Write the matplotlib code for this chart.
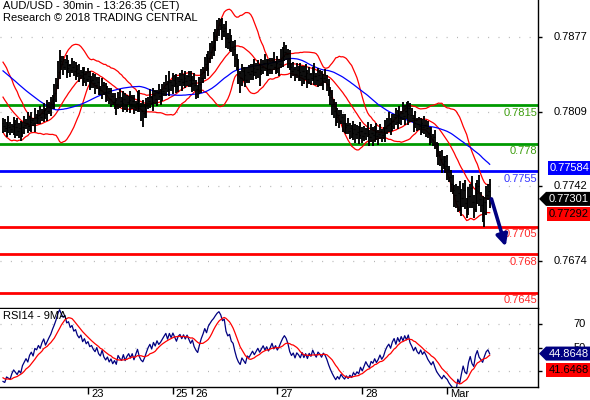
import numpy as np
import pandas as pd
import matplotlib
matplotlib.use("Agg")
import matplotlib.pyplot as plt
from matplotlib import transforms
from matplotlib.patches import Polygon

plt.rcParams["font.family"] = ["Liberation Sans", "DejaVu Sans"]
plt.rcParams["font.size"] = 8

# ---------------- data ----------------
BASE = 0.7700
PIP = 0.0001
WICK_UNIT = 1.6 * PIP   # one digit of the wick strings

# closes before the visible window (needed for indicator warm-up)
history_pips = [158, 161, 163, 160, 164, 166, 162, 165, 168, 164, 161, 163, 167, 165,
                162, 160, 164, 166, 163, 161, 165, 162, 159, 163, 166, 161, 158, 160,
                155, 151, 153, 147, 143, 146, 140, 136, 138, 131, 127, 129, 123, 119,
                121, 115, 111, 113, 106, 102, 104, 99]

# visible 30-min closes, pips above 0.7700
close_pips = [
    96, 94, 97, 95, 93, 96, 98, 95, 92, 94,
    91, 95, 97, 99, 96, 100, 102, 99, 104, 103,
    106, 104, 108, 111, 107, 110, 113, 116, 121, 126,
    133, 145, 155, 152, 150, 154, 149, 151, 147, 150,
    146, 148, 144, 142, 145, 140, 143, 139, 141, 137,
    138, 135, 133, 136, 131, 129, 133, 127, 124, 126,
    121, 123, 118, 120, 116, 122, 119, 117, 121, 115,
    118, 120, 116, 119, 113, 117, 121, 114, 110, 108,
    111, 115, 119, 122, 118, 124, 121, 126, 123, 125,
    128, 131, 134, 130, 136, 133, 138, 135, 132, 137,
    139, 136, 140, 137, 141, 138, 135, 138, 133, 130,
    128, 134, 140, 145, 152, 149, 158, 163, 168, 172,
    178, 184, 188, 186, 182, 185, 176, 172, 174, 168,
    166, 158, 150, 144, 140, 146, 142, 138, 145, 143,
    146, 149, 145, 148, 151, 147, 150, 153, 149, 152,
    148, 151, 155, 150, 153, 149, 152, 156, 160, 163,
    161, 157, 150, 146, 148, 143, 147, 145, 142, 146,
    141, 144, 139, 143, 140, 145, 141, 138, 142, 140,
    137, 140, 138, 134, 128, 122, 116, 110, 104, 106,
    101, 104, 99, 95, 97, 92, 94, 90, 93, 89,
    91, 88, 92, 87, 90, 93, 89, 86, 90, 88,
    91, 87, 89, 92, 88, 90, 94, 97, 99, 96,
    101, 104, 100, 106, 103, 108, 105, 110, 107, 112,
    106, 103, 99, 102, 98, 96, 99, 95, 97, 94,
    90, 87, 84, 86, 80, 74, 70, 66, 62, 64,
    60, 57, 50, 44, 38, 34, 28, 35, 24, 31,
    38, 26, 22, 33, 40, 27, 21, 35, 42, 30,
    25, 19, 27, 34, 37, 30.1,
]

# upper / lower wick of each bar (digits in WICK_UNIT)
wick_up = ("3425314253" "4352634152" "3524163425" "4663524315" "3425134253"
           "2453314254" "3524135243" "4253314526" "3425143253" "4352614352"
           "3524135243" "2453464536" "4543524363" "3524142534" "4253314253"
           "3425143656" "4352414253" "3524135243" "4253324354" "3425143253"
           "4352414253" "3524135463" "4253516354" "3425143253" "4352414253"
           "3624536475" "4635274636" "453547")
wick_dn = ("4253325634" "5342436253" "3425342536" "5243526342" "3524253425"
           "4352435243" "3524634253" "4253425368" "3524253425" "4352435243"
           "3524342536" "4253425345" "5342536453" "4526953425" "3524593425"
           "4352435243" "3524342536" "4253425345" "3524346453" "4253425345"
           "3524342536" "4253425345" "3524342536" "4253425345" "3524346453"
           "4635274636" "5364735264" "469735")

day_labels = ["23", "25", "26", "27", "28", "Mar"]
day_bar_index = [48, 96, 107, 155, 203, 251]

level_values = [0.7815, 0.778, 0.7755, 0.7705, 0.768, 0.7645]
level_labels = ["0.7815", "0.778", "0.7755", "0.7705", "0.768", "0.7645"]
level_colors = ["#009a00", "#009a00", "#0000ff", "#ff0000", "#ff0000", "#ff0000"]
level_text_colors = ["#3f9f10", "#3f9f10", "#3535ff", "#ff2828", "#ff2828", "#ff2828"]

price_ticks = [0.7877, 0.7809, 0.7742, 0.7674]
rsi_ticks = [70, 50, 30]
rsi_tick_labels = ["70", "50", ""]   # 30 is hidden under the MA readout box

ma_readout = 0.77584
close_readout = 0.77301
bid_readout = 0.77292
rsi_readout = 44.8648
rsi_ma_readout = 41.6468

forecast_target = 0.7687
forecast_bars = 9

title_lines = ["AUD/USD - 30min - 13:26:35 (CET)", "Research \u00a9 2018 TRADING CENTRAL"]

# ---------------- indicators ----------------
all_close = BASE + PIP * np.array(history_pips + close_pips, dtype=float)
s = pd.Series(all_close)
bb_mid = s.rolling(20).mean()
bb_sd = s.rolling(20).std(ddof=0)
bb_up = bb_mid + 2 * bb_sd
bb_lo = bb_mid - 2 * bb_sd
ma50 = s.rolling(50).mean()
d = s.diff()
gain = d.clip(lower=0)
loss = -d.clip(upper=0)
ag = gain.ewm(alpha=1 / 14, adjust=False).mean()
al = loss.ewm(alpha=1 / 14, adjust=False).mean()
rsi = 100 - 100 / (1 + ag / al)
rsi_ma = rsi.rolling(9).mean()

nh = len(history_pips)
n = len(close_pips)
idx = np.arange(len(all_close)) - nh
vis = idx >= 0
x = np.arange(n)

closes = all_close[nh:]
opens = all_close[nh - 1:-1]
up = np.array([int(c) for c in wick_up[:n]]) * WICK_UNIT
dn = np.array([int(c) for c in wick_dn[:n]]) * WICK_UNIT
highs = np.maximum(opens, closes) + up
lows = np.minimum(opens, closes) - dn

# ---------------- figure ----------------
W, H = 590, 400
fig = plt.figure(figsize=(W / 100, H / 100), dpi=100)
fig.patch.set_facecolor("white")
ax = fig.add_axes([0, 1 - 308 / H, 538 / W, 308 / H])
axr = fig.add_axes([0, 1 - 387 / H, 538 / W, 78 / H], sharex=ax)

ax.set_xlim(-1.7, 302.3)
ax.set_ylim(0.763124, 0.79103)
axr.set_ylim(16.4, 82.8)

grid_kw = dict(color="#b4b4b4", lw=0.9, linestyle=(0, (0.8, 7.5)), zorder=0)
for t in price_ticks:
    ax.axhline(t, **grid_kw)
for t in rsi_ticks:
    axr.axhline(t, **grid_kw)

# levels
for v, c in zip(level_values, level_colors):
    ax.axhline(v, color=c, lw=2.0, zorder=2)
lab_trans = transforms.offset_copy(
    transforms.blended_transform_factory(ax.transAxes, ax.transData), fig=fig, x=-1, y=-2.5, units="dots")
for v, lab, tc in zip(level_values, level_labels, level_text_colors):
    ax.text(1.0, v, lab, transform=lab_trans, ha="right", va="top", color=tc, fontsize=8, zorder=6)

# bollinger + MA
ax.plot(idx[vis], bb_up[vis], color="#ff0000", lw=0.9, zorder=3)
ax.plot(idx[vis], bb_mid[vis], color="#ff0000", lw=0.9, zorder=3)
ax.plot(idx[vis], bb_lo[vis], color="#ff0000", lw=0.9, zorder=3)
ax.plot(idx[vis], ma50[vis], color="#0000ff", lw=0.9, zorder=3)

# OHLC bars
ax.vlines(x, lows, highs, color="black", lw=1.35, zorder=4)
ax.hlines(opens, x - 0.6, x, color="black", lw=0.9, zorder=4)
ax.hlines(closes, x, x + 0.6, color="black", lw=0.9, zorder=4)

# forecast arrow
ax.annotate("", xy=(x[-1] + forecast_bars, forecast_target), xytext=(x[-1] + 1, closes[-1]),
            arrowprops=dict(arrowstyle="-|>", color="#000080", lw=2.6, mutation_scale=17,
                            shrinkA=0, shrinkB=0), zorder=7)

# RSI
axr.plot(idx[vis], rsi[vis], color="#000080", lw=0.9, zorder=3)
axr.plot(idx[vis], rsi_ma[vis], color="#ff0000", lw=0.9, zorder=3)

# spines / ticks
for a in (ax, axr):
    a.spines["left"].set_visible(False)
    a.spines["top"].set_visible(False)
    a.spines["right"].set_linewidth(1.0)
    a.spines["bottom"].set_linewidth(1.0)
    a.yaxis.tick_right()
    a.tick_params(axis="y", direction="out", length=3, width=1, labelright=False, right=True)
ax.tick_params(axis="x", bottom=False, labelbottom=False)
ax.set_yticks(price_ticks)
axr.set_yticks(rsi_ticks)
axr.set_xticks(day_bar_index)
axr.tick_params(axis="x", direction="out", length=5, width=1, labelbottom=False)

ytrans = transforms.blended_transform_factory(fig.transFigure, ax.transData)
for t in price_ticks:
    fig.text(587 / W, t, f"{t:.4f}", transform=ytrans, ha="right", va="center", fontsize=8)
ytrans_r = transforms.blended_transform_factory(fig.transFigure, axr.transData)
for t, lab in zip(rsi_ticks, rsi_tick_labels):
    if lab:
        fig.text(586 / W, t, lab, transform=ytrans_r, ha="right", va="center", fontsize=8)

xtrans = transforms.offset_copy(
    transforms.blended_transform_factory(axr.transData, axr.transAxes), fig=fig, x=3, y=-2, units="dots")
for pos, lab in zip(day_bar_index, day_labels):
    axr.text(pos, 0, lab, transform=xtrans, ha="left", va="top", fontsize=8, clip_on=False)

# titles
fig.text(3 / W, 1 - 1 / H, title_lines[0], ha="left", va="top", fontsize=8)
fig.text(3 / W, 1 - 13 / H, title_lines[1], ha="left", va="top", fontsize=8)
axr.text(3 / 538, 1 - 2 / 78, "RSI14 - 9MA", transform=axr.transAxes, ha="left", va="top", fontsize=8)


# readout boxes
def readout(a, value, text, fc, tc, left_px, arrow=False, dy=0.0, tip_px=None):
    ydisp = a.transData.transform((0, value))[1] + dy
    h = 7.0
    r = 590.0
    if arrow:
        pts = [(tip_px, ydisp), (left_px, ydisp + h), (r, ydisp + h), (r, ydisp - h), (left_px, ydisp - h)]
    else:
        pts = [(left_px, ydisp - h), (left_px, ydisp + h), (r, ydisp + h), (r, ydisp - h)]
    pts = [(px / W, py / H) for px, py in pts]
    fig.add_artist(Polygon(pts, closed=True, transform=fig.transFigure, facecolor=fc,
                           edgecolor="none", zorder=10))
    fig.text((left_px + r) / 2 / W + 0.6 / W, ydisp / H, text, ha="center", va="center",
             color=tc, fontsize=8, zorder=11)


readout(ax, ma_readout, f"{ma_readout:.5f}", "#0000ff", "white", 548)
readout(ax, close_readout, f"{close_readout:.5f}", "black", "white", 546, arrow=True, tip_px=539)
readout(ax, bid_readout, f"{bid_readout:.5f}", "#ff0000", "black", 547, dy=-14.5)
readout(axr, rsi_readout, f"{rsi_readout:.4f}", "#000080", "white", 546, arrow=True, tip_px=539)
readout(axr, rsi_ma_readout, f"{rsi_ma_readout:.4f}", "#ff0000", "black", 546, dy=-12.5)

fig.savefig("out.png", dpi=100, facecolor="white")
